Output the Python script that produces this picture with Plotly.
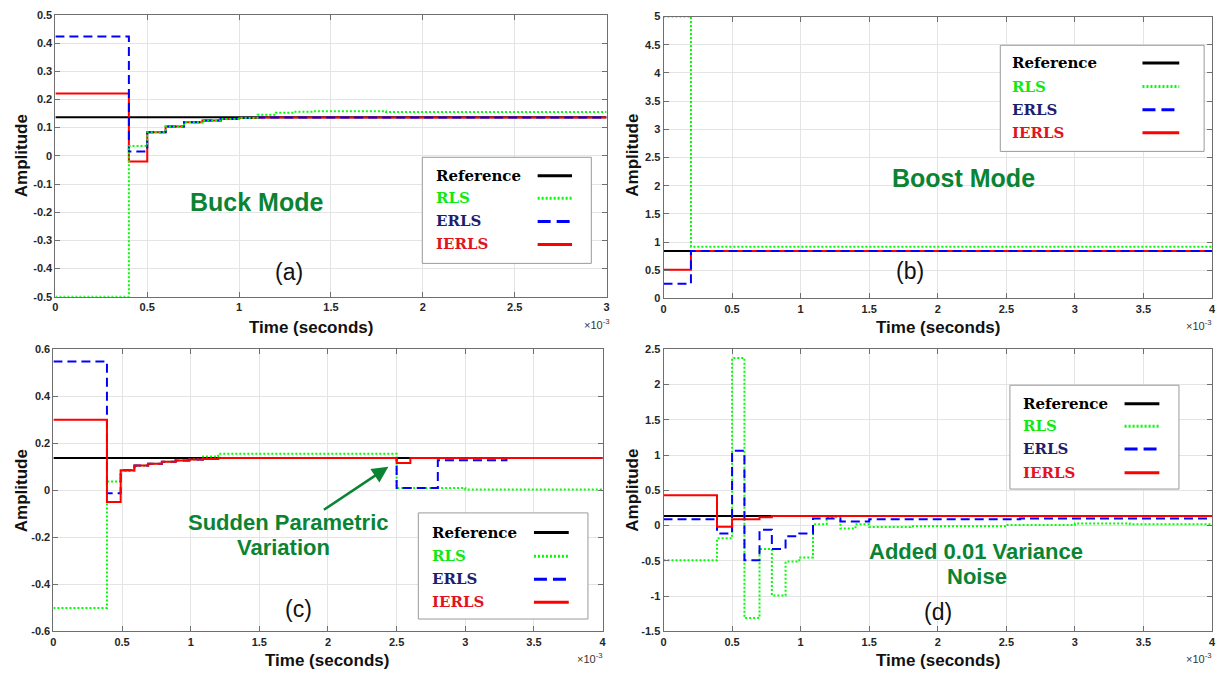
import plotly.graph_objects as go

# ---------------- data (time in ms, i.e. x10^-3 s) ----------------
A_REF_T = [0, 3.0]
A_REF = [0.137, 0.137]
A_RLS_T = [0, 0.4, 0.5, 0.6, 0.7, 0.8, 0.9, 1.0, 1.1, 1.2, 1.3, 1.4, 1.8, 3.0]
A_RLS = [-0.5, 0.035, 0.084, 0.104, 0.119, 0.125, 0.131, 0.134, 0.146, 0.153, 0.156, 0.158, 0.155, 0.155]
A_ERLS_T = [0, 0.4, 0.5, 0.6, 0.7, 0.8, 0.9, 1.0, 1.1, 3.0]
A_ERLS = [0.423, 0.015, 0.084, 0.104, 0.119, 0.125, 0.131, 0.134, 0.136, 0.136]
A_IERLS_T = [0, 0.4, 0.5, 0.6, 0.7, 0.8, 0.9, 1.0, 1.1, 3.0]
A_IERLS = [0.221, -0.02, 0.084, 0.104, 0.119, 0.125, 0.131, 0.134, 0.136, 0.136]

B_REF_T = [0, 4.0]
B_REF = [0.84, 0.84]
B_T = [0, 0.2, 4.0]
B_RLS = [5.0, 0.918, 0.918]
B_ERLS = [0.26, 0.843, 0.843]
B_IERLS = [0.51, 0.843, 0.843]

C_REF_T = [0, 4.0]
C_REF = [0.137, 0.137]
C_RLS_T = [0, 0.39, 0.49, 0.59, 0.69, 0.79, 0.89, 0.99, 1.09, 1.2, 2.5, 3.0, 4.0]
C_RLS = [-0.5, 0.037, 0.082, 0.104, 0.113, 0.121, 0.127, 0.131, 0.144, 0.155, 0.01, 0.004, 0.004]
C_ERLS_T = [0, 0.39, 0.49, 0.59, 0.69, 0.79, 0.89, 0.99, 1.09, 1.2, 2.5, 2.8, 3.3, 4.0]
C_ERLS = [0.548, -0.012, 0.085, 0.106, 0.113, 0.121, 0.127, 0.131, 0.133, 0.137, 0.01, 0.128, 0.137, 0.137]
C_IERLS_T = [0, 0.39, 0.49, 0.59, 0.69, 0.79, 0.89, 0.99, 1.09, 1.2, 2.5, 2.6, 4.0]
C_IERLS = [0.30, -0.05, 0.085, 0.106, 0.113, 0.121, 0.127, 0.131, 0.133, 0.137, 0.116, 0.137, 0.137]

D_REF_T = [0, 4.0]
D_REF = [0.137, 0.137]
D_RLS_T = [0, 0.39, 0.5, 0.59, 0.7, 0.79, 0.89, 0.99, 1.09, 1.19, 1.29, 1.4, 1.5, 1.8, 2.5, 3.0, 3.4, 4.0]
D_RLS = [-0.49, -0.18, 2.375, -1.31, -0.33, -0.99, -0.51, -0.45, 0.02, 0.12, -0.04, 0.02, -0.02, -0.01, 0.01, 0.03, 0.02, 0.02]
D_ERLS_T = [0, 0.39, 0.5, 0.59, 0.7, 0.79, 0.89, 0.99, 1.09, 1.29, 1.5, 2.6, 4.0]
D_ERLS = [0.09, -0.11, 1.06, -0.49, -0.06, -0.33, -0.15, -0.11, 0.10, 0.06, 0.09, 0.10, 0.10]
D_IERLS_T = [0, 0.39, 0.5, 0.7, 0.79, 4.0]
D_IERLS = [0.43, -0.015, 0.09, 0.12, 0.137, 0.137]

X_TICKS_A = [0, 0.5, 1, 1.5, 2, 2.5, 3]
X_TICKS_4 = [0, 0.5, 1, 1.5, 2, 2.5, 3, 3.5, 4]
Y_TICKS_A = [-0.5, -0.4, -0.3, -0.2, -0.1, 0, 0.1, 0.2, 0.3, 0.4, 0.5]
Y_TICKS_B = [0, 0.5, 1, 1.5, 2, 2.5, 3, 3.5, 4, 4.5, 5]
Y_TICKS_C = [-0.6, -0.4, -0.2, 0, 0.2, 0.4, 0.6]
Y_TICKS_D = [-1.5, -1, -0.5, 0, 0.5, 1, 1.5, 2, 2.5]

SERIES = ["Reference", "RLS", "ERLS", "IERLS"]
LEGEND_TEXT_COLORS = ["#000000", "#12e812", "#1e1e6e", "#e0141e"]

# ---------------- styling ----------------
W, H = 1228, 682
def fx(px): return px / W
def fy(py): return 1 - py / H

COL = {"Reference": "#000000", "RLS": "#00ff00", "ERLS": "#0000ff", "IERLS": "#ff0000"}
DASH = {"Reference": "solid", "RLS": "2px,2px", "ERLS": "9px,5px", "IERLS": "solid"}
WID = {"Reference": 2, "RLS": 2, "ERLS": 2, "IERLS": 2}

fig = go.Figure()

def add(name, t, v, ax):
    fig.add_trace(go.Scatter(x=t, y=v, mode="lines", line_shape="hv",
                             line=dict(color=COL[name], dash=DASH[name], width=WID[name]),
                             xaxis="x" + ax, yaxis="y" + ax, showlegend=False,
                             hoverinfo="skip", name=name))

# panel a (x1/y1)
add("Reference", A_REF_T, A_REF, "")
add("IERLS", A_IERLS_T, A_IERLS, "")
add("ERLS", A_ERLS_T, A_ERLS, "")
add("RLS", A_RLS_T, A_RLS, "")
# panel b
add("Reference", B_REF_T, B_REF, "2")
add("IERLS", B_T, B_IERLS, "2")
add("ERLS", B_T, B_ERLS, "2")
add("RLS", B_T, B_RLS, "2")
# panel c
add("Reference", C_REF_T, C_REF, "3")
add("RLS", C_RLS_T, C_RLS, "3")
add("ERLS", C_ERLS_T, C_ERLS, "3")
add("IERLS", C_IERLS_T, C_IERLS, "3")
# panel d
add("Reference", D_REF_T, D_REF, "4")
add("RLS", D_RLS_T, D_RLS, "4")
add("ERLS", D_ERLS_T, D_ERLS, "4")
add("IERLS", D_IERLS_T, D_IERLS, "4")

tickfont = dict(family="Liberation Sans, Arial", size=11, color="#262626", weight="bold")
def axis(domain, rng, ticks, anchor):
    return dict(domain=domain, range=rng, tickvals=ticks, ticktext=[f"{v:g}" for v in ticks],
                showgrid=True, gridcolor="#e4e4e4", gridwidth=1, showline=True,
                linecolor="#6f6f6f", linewidth=1, mirror="allticks", ticks="inside",
                ticklen=5, tickcolor="#6f6f6f", tickfont=tickfont, zeroline=False,
                anchor=anchor, fixedrange=True)

PA = dict(x=(52.7, 607), y=(9, 296))
PB = dict(x=(664.3, 1216), y=(10.7, 297.7))
PC = dict(x=(50.7, 603), y=(349.3, 636.7))
PD = dict(x=(664.3, 1216), y=(349.3, 636.7))

def dom(p):
    return [fx(p["x"][0]), fx(p["x"][1])], [fy(p["y"][1]), fy(p["y"][0])]

layout = dict(width=W, height=H, margin=dict(l=0, r=0, t=0, b=0),
              paper_bgcolor="white", plot_bgcolor="white", showlegend=False)
for suf, p, xr, xt, yr, yt in [("", PA, [0, 3], X_TICKS_A, [-0.5, 0.5], Y_TICKS_A),
                               ("2", PB, [0, 4], X_TICKS_4, [0, 5], Y_TICKS_B),
                               ("3", PC, [0, 4], X_TICKS_4, [-0.6, 0.6], Y_TICKS_C),
                               ("4", PD, [0, 4], X_TICKS_4, [-1.5, 2.5], Y_TICKS_D)]:
    xd, yd = dom(p)
    layout["xaxis" + suf] = axis(xd, xr, xt, "y" + suf)
    layout["yaxis" + suf] = axis(yd, yr, yt, "x" + suf)
fig.update_layout(**layout)

ann = []
shapes = []
GREEN = "#0a8433"

def note(px, py, text, font, **kw):
    d = dict(x=fx(px), y=fy(py), xref="paper", yref="paper", text=text, showarrow=False,
             font=font, xanchor="center", yanchor="middle")
    d.update(kw)
    ann.append(d)

LBL = dict(family="Liberation Sans, Arial", size=17, color="#111", weight="bold")
for (tx, ty), (ax_, ay_), (ex, ey) in [((310, 327), (18, 152), (597, 324)),
                                       ((940, 327), (633, 152), (1203, 325)),
                                       ((326, 666), (18, 493), (590, 664)),
                                       ((940, 666), (633, 493), (1203, 664))]:
    note(tx, ty, "Time (seconds)", LBL)
    note(ax_, ay_, "Amplitude", LBL, textangle=-90)
    note(ex, ey, "×10<sup>-3</sup>", dict(family="Liberation Sans, Arial", size=11, color="#333"))

BIG = dict(family="Liberation Sans, Arial", size=25, color=GREEN, weight="bold")
MID = dict(family="Liberation Sans, Arial", size=22, color=GREEN, weight="bold")
note(255, 200, "Buck Mode", BIG)
note(966, 175, "Boost Mode", BIG)
note(287, 526, "Sudden Parametric", MID)
note(282, 551, "Variation", MID)
note(979, 555, "Added 0.01 Variance", MID)
note(980, 581, "Noise", MID)
# arrow in (c)
ann.append(dict(x=2.44, y=0.10, xref="x3", yref="y3", ax=-66, ay=44, text="",
                showarrow=True, arrowhead=2, arrowsize=1.3, arrowwidth=2.5, arrowcolor=GREEN))

LAB = dict(family="Liberation Sans, Arial", size=23, color="#111")
for t, (px, py) in [("(a)", (288, 271)), ("(b)", (912, 270)), ("(c)", (297, 614)), ("(d)", (940, 617))]:
    note(px, py, t, LAB)

# custom legends (text left, line sample right, as in the original)
LEGS = [dict(box=(421.7, 154, 591.7, 262), tx=433, rows=(172.7, 195.7, 219.3, 242.7), ln=(537.7, 572.3)),
        dict(box=(1003, 40, 1208, 148), tx=1013, rows=(58, 82, 105.5, 129), ln=(1146, 1183)),
        dict(box=(417.7, 516, 588.3, 624), tx=429, rows=(536, 560, 583.5, 607), ln=(534, 569)),
        dict(box=(1012.7, 386, 1182.7, 491.7), tx=1024, rows=(405, 427.7, 451, 475), ln=(1128, 1163))]
for L in LEGS:
    x0, y0, x1, y1 = L["box"]
    shapes.append(dict(type="rect", xref="paper", yref="paper", x0=fx(x0), x1=fx(x1), y0=fy(y1), y1=fy(y0),
                       line=dict(color="#9a9a9a", width=1), fillcolor="white", layer="above"))
    for name, tc, ry in zip(SERIES, LEGEND_TEXT_COLORS, L["rows"]):
        note(L["tx"], ry, name, dict(family="DejaVu Serif", size=15, color=tc, weight="bold"),
             xanchor="left")
        shapes.append(dict(type="line", xref="paper", yref="paper", x0=fx(L["ln"][0]), x1=fx(L["ln"][1]),
                           y0=fy(ry), y1=fy(ry), layer="above",
                           line=dict(color=COL[name], width=3,
                                     dash=DASH[name] if name != "ERLS" else "13px,6px")))

fig.update_layout(annotations=ann, shapes=shapes)
fig.write_html("out.html")
